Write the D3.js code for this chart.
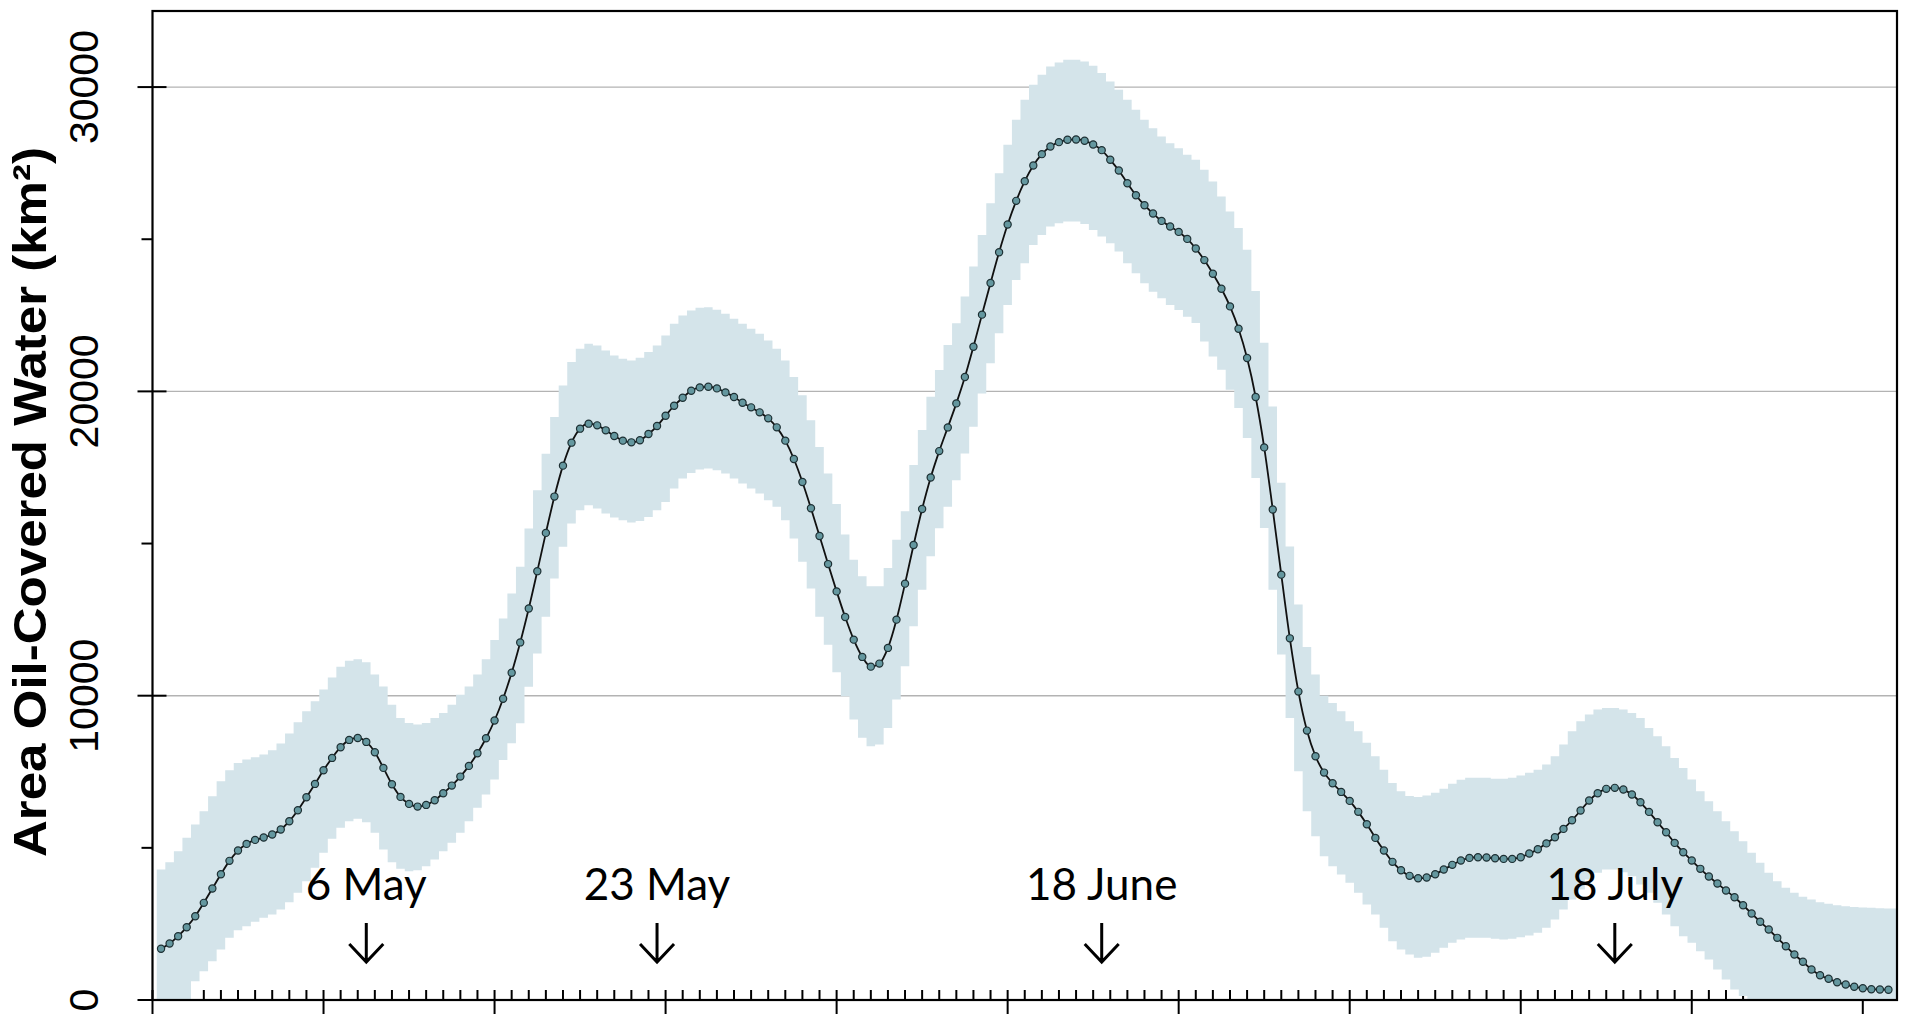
<!DOCTYPE html>
<html>
<head>
<meta charset="utf-8">
<script src="https://cdn.jsdelivr.net/npm/d3@7"></script>
<style>
  body { margin: 0; background: #fff; }
  svg { display: block; }
</style>
</head>
<body>
<div id="chart"></div>
<script>
// first estimate is 24 April 2010 12:00 UTC, then one every 12 hours
var seriesStart = Date.UTC(2010, 3, 24, 12);
var stepHours = 12;

// mean oil-covered area (km2)
var meanArea = [
  1682, 1856, 2097, 2393, 2754, 3192, 3663, 4134, 4572, 4911, 5130, 5261, 5338, 5437, 5601, 5875, 6236, 6663, 7101, 7550,
  7955, 8306, 8547, 8612, 8481, 8142, 7627, 7090, 6674, 6444, 6356, 6411, 6565, 6795, 7046, 7342, 7693, 8109, 8601, 9185,
  9898, 10756, 11751, 12867, 14092, 15350, 16543, 17560, 18315, 18775, 18939, 18884, 18720, 18534, 18381, 18326, 18392, 18600, 18862, 19201,
  19530, 19792, 20022, 20131, 20153, 20098, 19967, 19814, 19628, 19475, 19311, 19114, 18818, 18381, 17779, 17024, 16160, 15250, 14325, 13428,
  12585, 11842, 11274, 10955, 11054, 11570, 12499, 13682, 14954, 16137, 17171, 18037, 18816, 19605, 20471, 21469, 22522, 23564, 24572, 25482,
  26261, 26908, 27423, 27796, 28048, 28191, 28268, 28279, 28235, 28114, 27928, 27610, 27259, 26842, 26447, 26118, 25844, 25603, 25417, 25241,
  25011, 24695, 24314, 23866, 23373, 22793, 22059, 21095, 19815, 18160, 16120, 13978, 11885, 10134, 8853, 8010, 7473, 7123, 6838, 6543,
  6183, 5776, 5327, 4911, 4539, 4265, 4079, 4002, 4024, 4134, 4287, 4441, 4583, 4670, 4692, 4681, 4659, 4637, 4637, 4692,
  4812, 4955, 5146, 5348, 5623, 5907, 6225, 6554, 6794, 6938, 6971, 6915, 6751, 6498, 6182, 5841, 5512, 5163, 4856, 4583,
  4310, 4057, 3827, 3597, 3377, 3114, 2842, 2569, 2316, 2043, 1767, 1495, 1255, 1002, 815, 696, 585, 509, 434, 388,
  355, 345, 335
];

// upper bound of the uncertainty band
var upperArea = [
  4287, 4528, 4888, 5328, 5765, 6203, 6696, 7189, 7550, 7791, 7900, 7977, 8065, 8207, 8426, 8755, 9126, 9487, 9815, 10200,
  10600, 10950, 11150, 11200, 11100, 10700, 10300, 9700, 9270, 9106, 9050, 9106, 9270, 9434, 9700, 10030, 10300, 10700, 11200, 11828,
  12539, 13359, 14235, 15493, 16751, 17954, 19158, 20197, 20963, 21400, 21564, 21510, 21346, 21182, 21072, 21017, 21105, 21291, 21510, 21838,
  22221, 22494, 22658, 22746, 22768, 22680, 22549, 22385, 22221, 22057, 21893, 21674, 21400, 21017, 20470, 19869, 19048, 18173, 17298, 16300,
  15300, 14470, 13923, 13594, 13594, 14197, 15127, 16058, 17577, 18728, 19824, 20702, 21524, 22237, 23114, 24101, 25143, 26184, 27171, 28103,
  28925, 29583, 30077, 30406, 30680, 30811, 30899, 30899, 30844, 30702, 30461, 30186, 29912, 29583, 29254, 28925, 28651, 28377, 28158, 27993,
  27774, 27610, 27282, 26898, 26405, 25912, 25366, 24654, 23300, 21600, 19500, 17000, 14900, 13000, 11600, 10700, 10000, 9760, 9490, 9160,
  8830, 8450, 8010, 7570, 7130, 6860, 6700, 6670, 6720, 6810, 6940, 7110, 7240, 7300, 7300, 7300, 7270, 7270, 7300, 7380,
  7470, 7570, 7736, 8010, 8393, 8831, 9159, 9379, 9543, 9598, 9598, 9543, 9434, 9269, 8941, 8666, 8338, 7955, 7627, 7243,
  6860, 6532, 6203, 5874, 5545, 5217, 4835, 4507, 4179, 3904, 3686, 3521, 3390, 3301, 3213, 3159, 3115, 3082, 3060, 3039,
  3028, 3017, 3006
];

// lower bound of the uncertainty band
var lowerArea = [
  0, 0, 0, 0, 620, 946, 1275, 1659, 2042, 2294, 2425, 2568, 2700, 2809, 2973, 3213, 3521, 3903, 4343, 4836,
  5295, 5657, 5874, 5953, 5841, 5493, 4944, 4527, 4310, 4231, 4264, 4395, 4615, 4888, 5164, 5493, 5874, 6314, 6751, 7243,
  7889, 8436, 9093, 10296, 11390, 12594, 13852, 14891, 15657, 16094, 16259, 16150, 15985, 15854, 15766, 15690, 15744, 15876, 16094, 16368,
  16806, 17134, 17320, 17429, 17462, 17407, 17298, 17134, 16970, 16806, 16641, 16423, 16205, 15766, 15164, 14398, 13523, 12593, 11670, 10770,
  9980, 9214, 8614, 8338, 8393, 8942, 9871, 10966, 12280, 13485, 14580, 15500, 16206, 17083, 17960, 18838, 19934, 20921, 21908, 22840,
  23662, 24210, 24814, 25143, 25417, 25526, 25581, 25581, 25504, 25307, 25088, 24868, 24594, 24210, 23882, 23553, 23278, 23059, 22840, 22675,
  22456, 22250, 21643, 21149, 20712, 20055, 19453, 18468, 17154, 15512, 13485, 11350, 9269, 7517, 6203, 5382, 4725, 4397, 4123, 3849,
  3521, 3137, 2809, 2371, 1933, 1659, 1495, 1385, 1418, 1550, 1714, 1878, 1987, 2042, 2042, 2042, 2009, 1987, 2009, 2064,
  2119, 2207, 2371, 2644, 2973, 3301, 3630, 3958, 4179, 4287, 4287, 4199, 4067, 3794, 3521, 3193, 2809, 2424, 2096, 1878,
  1603, 1330, 1002, 673, 345, 130, 0, 0, 0, 0, 0, 0, 0, 0, 0, 0,
  0, 0, 0, 0, 0, 0, 0
];

// annotated dates
var eventLabels = ["6 May", "23 May", "18 June", "18 July"];
var eventDates = ["2010-05-06", "2010-05-23", "2010-06-18", "2010-07-18"];

// axis settings
var dateStart = "2010-04-24";
var dateEnd = "2010-08-04";
var yMax = 32500;
var yLabelTicks = [0, 10000, 20000, 30000];
var yMinorTicks = [5000, 15000, 25000];

function init() {
    var W = 1920, H = 1016;
    var left = 152.5, right = 1897, top = 11, bottom = 1000;
    var hour = 3600 * 1000;
    var parse = d3.utcParse("%Y-%m-%d");

    var data = meanArea.map(function(v, i) {
        return { t: new Date(seriesStart + i * stepHours * hour), mean: v, lo: lowerArea[i], hi: upperArea[i] };
    });

    var svg = d3.select("#chart").append("svg")
                .attr("width", W)
                .attr("height", H);

    var x = d3.scaleUtc().domain([parse(dateStart), parse(dateEnd)]).range([left, right]);
    var y = d3.scaleLinear().domain([0, yMax]).range([bottom, top]);

    // grid lines
    svg.append("g").selectAll("line")
       .data(yLabelTicks.filter(function(d) { return d > 0; }))
       .join("line")
       .attr("x1", left).attr("x2", right)
       .attr("y1", function(d) { return y(d); })
       .attr("y2", function(d) { return y(d); })
       .attr("stroke", "#b3b3b3")
       .attr("stroke-width", 1.4);

    // x ticks: daily minor ticks pointing up, 10-day major ticks
    var days = d3.utcDay.range(parse(dateStart), d3.utcDay.offset(parse(dateEnd), 1));
    svg.append("g").selectAll("line")
       .data(days)
       .join("line")
       .attr("x1", function(d) { return x(d); })
       .attr("x2", function(d) { return x(d); })
       .attr("y1", function(d, i) { return i % 10 === 0 ? bottom + 14 : bottom; })
       .attr("y2", bottom - 10)
       .attr("stroke", "#000")
       .attr("stroke-width", 2);

    // uncertainty band, one step per estimate
    var half = stepHours / 2 * hour;
    var bandData = data.map(function(d) { return { t: new Date(+d.t - half), lo: d.lo, hi: d.hi }; });
    var last = data[data.length - 1];
    bandData.push({ t: new Date(+last.t + half * 2), lo: last.lo, hi: last.hi });

    svg.append("path")
       .datum(bandData)
       .attr("fill", "#d4e4ea")
       .attr("d", d3.area()
            .curve(d3.curveStepAfter)
            .x(function(d) { return Math.min(x(d.t), right); })
            .y0(function(d) { return y(d.lo); })
            .y1(function(d) { return y(d.hi); }));

    // mean line
    svg.append("path")
       .datum(data)
       .attr("fill", "none")
       .attr("stroke", "#111")
       .attr("stroke-width", 1.8)
       .attr("d", d3.line()
            .curve(d3.curveMonotoneX)
            .x(function(d) { return x(d.t); })
            .y(function(d) { return y(d.mean); }));

    svg.append("g").selectAll("circle")
       .data(data)
       .join("circle")
       .attr("cx", function(d) { return x(d.t); })
       .attr("cy", function(d) { return y(d.mean); })
       .attr("r", 3.6)
       .attr("fill", "#64979f")
       .attr("stroke", "#1d2f33")
       .attr("stroke-width", 1.2);

    // frame
    svg.append("rect")
       .attr("x", left).attr("y", top)
       .attr("width", right - left).attr("height", bottom - top)
       .attr("fill", "none")
       .attr("stroke", "#000")
       .attr("stroke-width", 2.2);

    // y ticks
    svg.append("g").selectAll("line")
       .data(yLabelTicks)
       .join("line")
       .attr("x1", left - 15).attr("x2", left + 14)
       .attr("y1", function(d) { return y(d); })
       .attr("y2", function(d) { return y(d); })
       .attr("stroke", "#000").attr("stroke-width", 2);

    svg.append("g").selectAll("line")
       .data(yMinorTicks)
       .join("line")
       .attr("x1", left - 11).attr("x2", left)
       .attr("y1", function(d) { return y(d); })
       .attr("y2", function(d) { return y(d); })
       .attr("stroke", "#000").attr("stroke-width", 2);

    svg.append("g").selectAll("text")
       .data(yLabelTicks)
       .join("text")
       .attr("transform", function(d) { return "translate(98," + y(d) + ") rotate(-90)"; })
       .attr("text-anchor", "middle")
       .style("font-family", "'Liberation Sans', Arial, sans-serif")
       .style("font-size", "41px")
       .text(function(d) { return d; });

    // y axis title
    svg.append("text")
       .attr("transform", "translate(46,502) rotate(-90)")
       .attr("text-anchor", "middle")
       .attr("textLength", 710)
       .attr("lengthAdjust", "spacingAndGlyphs")
       .style("font-family", "'Liberation Sans', Arial, sans-serif")
       .style("font-weight", "bold")
       .style("font-size", "46px")
       .text("Area Oil-Covered Water (km²)");

    // date annotations with arrows
    var events = eventLabels.map(function(l, i) {
        return { label: l, t: new Date(+parse(eventDates[i]) + 12 * hour) };
    });

    var ev = svg.append("g").selectAll("g")
                .data(events)
                .join("g")
                .attr("transform", function(d) { return "translate(" + x(d.t) + ",0)"; });

    ev.append("text")
      .attr("y", 900)
      .attr("text-anchor", "middle")
      .style("font-family", "Lato, 'Open Sans', sans-serif")
      .style("font-size", "44px")
      .text(function(d) { return d.label; });

    ev.append("path")
      .attr("d", "M0,923V962M-17,944L0,962L17,944")
      .attr("fill", "none")
      .attr("stroke", "#000")
      .attr("stroke-width", 3);
}

window.onload = init;
</script>
</body>
</html>
